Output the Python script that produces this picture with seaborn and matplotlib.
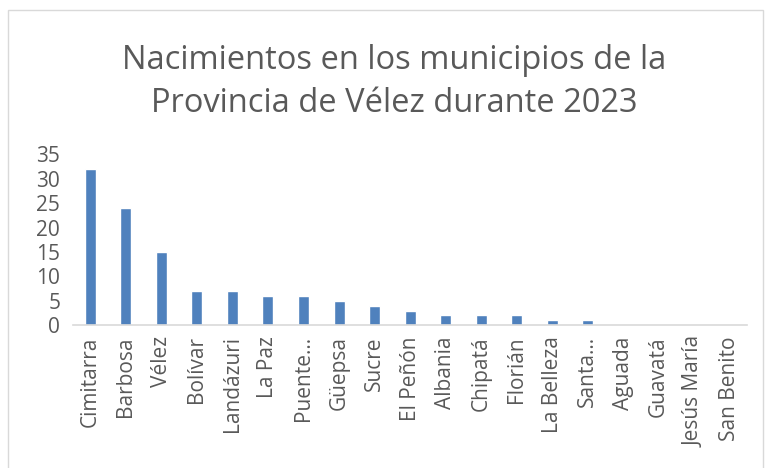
import matplotlib
matplotlib.use("Agg")
import matplotlib.pyplot as plt
import seaborn as sns
import pandas as pd
from matplotlib.patches import Rectangle

# data
municipios = ['Cimitarra', 'Barbosa', 'Vélez', 'Bolívar', 'Landázuri', 'La Paz',
              'Puente…', 'Güepsa', 'Sucre', 'El Peñón', 'Albania', 'Chipatá',
              'Florián', 'La Belleza', 'Santa…', 'Aguada', 'Guavatá',
              'Jesús María', 'San Benito']
nacimientos = [32, 24, 15, 7, 7, 6, 6, 5, 4, 3, 2, 2, 2, 1, 1, 0, 0, 0, 0]

df = pd.DataFrame({'Municipio': municipios, 'Nacimientos': nacimientos})

sns.set_style('white')
plt.rcParams['font.family'] = ['Open Sans', 'DejaVu Sans']

fig = plt.figure(figsize=(7.65, 4.68), dpi=100)
ax = fig.add_axes([0.095, 0.305, 0.882, 0.365])

sns.barplot(data=df, x='Municipio', y='Nacimientos', color='#4f81bd',
            width=0.31, saturation=1, ax=ax)

ax.set_ylim(0, 35)
ax.set_yticks(range(0, 36, 5))
ax.set_xlim(-0.5, len(municipios) - 0.5)
ax.set_xlabel('')
ax.set_ylabel('')
ax.tick_params(axis='y', labelsize=15, labelcolor='#595959', length=0, pad=9)
ax.tick_params(axis='x', labelsize=15, labelcolor='#595959', length=0,
               rotation=90, pad=8)
for s in ['top', 'right', 'left']:
    ax.spines[s].set_visible(False)
ax.spines['bottom'].set_color('#d9d9d9')
ax.spines['bottom'].set_linewidth(1.2)

fig.suptitle('Nacimientos en los municipios de la\nProvincia de Vélez durante 2023',
             fontsize=23.5, color='#595959', x=0.515, y=0.905, linespacing=1.4)

# chart border
fig.patches.append(Rectangle((0.011, -0.01), 0.986, 0.989, transform=fig.transFigure,
                             fill=False, edgecolor='#d9d9d9', linewidth=1))

fig.savefig('out.png', dpi=100)
